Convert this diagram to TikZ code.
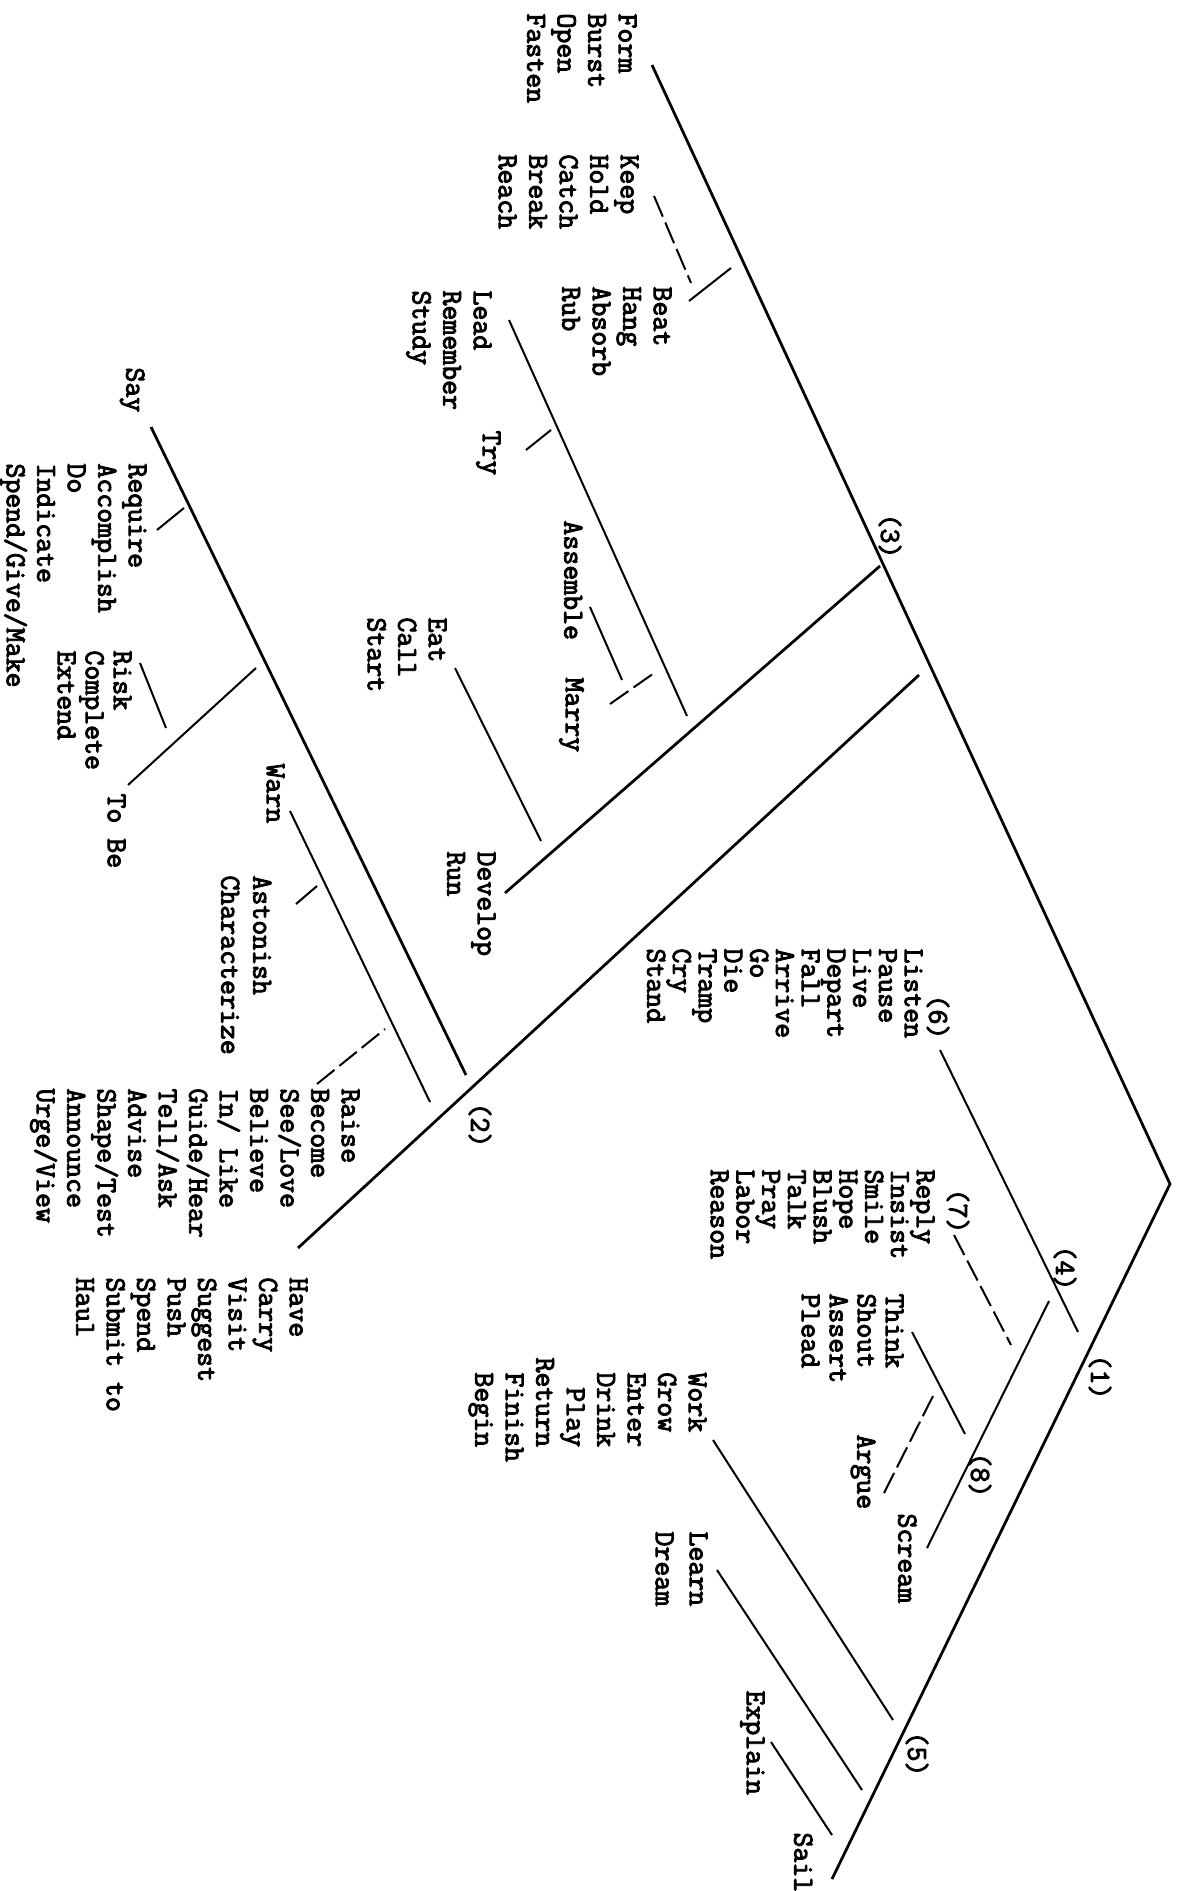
\documentclass[tikz,border=0pt]{standalone}
\usepackage{fontspec}
\newfontfamily\typer{Latin Modern Mono}[FakeBold=3.2]
\begin{document}
\begin{tikzpicture}[
  x=0.4pt, y=-0.4pt,
  %% Leaf words: typewritten, turned a quarter turn clockwise
  leaf/.style={rotate=-90, anchor=north west, align=left, inner sep=0pt,
               font=\typer\fontsize{11.6}{#1}\selectfont},
  leaf/.default=12.2,
  %% Cluster numbers
  tag/.style={rotate=-90, inner sep=0pt,
              font=\typer\fontsize{11.6}{12}\selectfont},
  %% Branches: trunk lines heavier, twigs lighter, broken ones dashed
  trunk/.style={line width=1.1pt},
  twig/.style={line width=0.8pt},
  broken/.style={line width=0.8pt, dash pattern=on 9pt off 2.5pt}
]
\useasboundingbox (0,0) rectangle (1178,1891);

%% ---- LEAVES (upper left) ----
\node[leaf] (form)     at (637,  13) {Form\\Burst\\Open\\Fasten};
\node[leaf] (keep)     at (639, 154) {Keep\\Hold\\Catch\\Break\\Reach};
\node[leaf] (beat)     at (672, 286) {Beat\\Hang\\Absorb\\Rub};
\node[leaf] (lead)     at (492, 290) {Lead\\Remember\\Study};
\node[leaf] (try)      at (501, 430) {Try};
\node[leaf] (assemble) at (583, 520) {Assemble};
\node[leaf] (marry)    at (584, 677) {Marry};
\node[leaf] (eat)      at (447, 617) {Eat\\Call\\Start};
\node[leaf] (develop)  at (496, 851) {Develop\\Run};

%% ---- LEAVES (left) ----
\node[leaf] (say)      at (145, 367) {Say};
\node[leaf] (require)  at (147, 463) {Require\\Accomplish\\Do\\Indicate\\Spend/Give/Make};
\node[leaf=11.2] (risk) at (132, 650) {Risk\\Complete\\Extend};
\node[leaf] (tobe)     at (126, 793) {To Be};
\node[leaf] (warn)     at (285, 763) {Warn};
\node[leaf=12.8] (astonish) at (272, 875) {Astonish\\Characterize};
\node[leaf] (raise)    at (360,1088) {Raise\\Become\\See/Love\\Believe\\In/ Like\\Guide/Hear\\Tell/Ask\\Advise\\Shape/Test\\Announce\\Urge/View};
\node[leaf] (have)     at (308,1277) {Have\\Carry\\Visit\\Suggest\\Push\\Spend\\Submit to\\Haul};

%% ---- LEAVES (right) ----
\node[leaf=10.3] (listen) at (923, 948) {Listen\\Pause\\Live\\Depart\\Fall\\Arrive\\Go\\Die\\Tramp\\Cry\\Stand};
\node[leaf=10.3] (reply)  at (935,1169) {Reply\\Insist\\Smile\\Hope\\Blush\\Talk\\Pray\\Labor\\Reason};
\node[leaf=11.2] (think)  at (904,1293) {Think\\Shout\\Assert\\Plead};
\node[leaf] (argue)    at (876,1434) {Argue};
\node[leaf] (scream)   at (917,1513) {Scream};
\node[leaf] (work)     at (707,1357) {\phantom{x}Work\\\phantom{x}Grow\\\phantom{x}Enter\\\phantom{x}Drink\\\phantom{xx}Play\\Return\\\phantom{x}Finish\\\phantom{x}Begin};
\node[leaf=13.6] (learn) at (708,1531) {Learn\\Dream};
\node[leaf] (explain)  at (765,1690) {Explain};
\node[leaf] (sail)     at (813,1832) {Sail};

%% ---- CLUSTER NUMBERS ----
\node[tag] (t1) at (1100,1377) {(1)};
\node[tag] (t2) at ( 480,1125) {(2)};
\node[tag] (t3) at ( 890, 536) {(3)};
\node[tag] (t4) at (1065,1268) {(4)};
\node[tag] (t5) at ( 917,1754) {(5)};
\node[tag] (t6) at ( 938,1017) {(6)};
\node[tag] (t7) at ( 958,1211) {(7)};
\node[tag] (t8) at ( 980,1475) {(8)};

%% ---- JUNCTIONS AND BRANCH ENDS ----
\coordinate (apex)  at (1170,1184);
\coordinate (form-s) at (652,  65);
\coordinate (sail-s) at (832,1879);
\coordinate (j1) at (1078,1332);
\coordinate (j2) at ( 466,1075);
\coordinate (j3) at ( 880, 566);
\coordinate (j4) at (1049,1301);
\coordinate (j5) at ( 893,1720);
\coordinate (j8) at ( 965,1434);
\coordinate (have-j)  at (919, 675);
\coordinate (have-s)  at (298,1248);
\coordinate (keep-s)  at (654, 196);  \coordinate (keep-e)  at (691, 283);
\coordinate (beat-s)  at (689, 301);  \coordinate (beat-e)  at (731, 268);
\coordinate (develop-s) at (505, 893);
\coordinate (lead-s)  at (509, 320);  \coordinate (lead-e)  at (687, 716);
\coordinate (try-j)   at (551, 430);  \coordinate (try-s)   at (526, 450);
\coordinate (assemble-s) at (590, 607); \coordinate (assemble-e) at (622, 680);
\coordinate (marry-s) at (610, 704);  \coordinate (marry-e) at (657, 671);
\coordinate (eat-s)   at (455, 668);  \coordinate (eat-e)   at (541, 841);
\coordinate (say-s)   at (151, 427);
\coordinate (require-s) at (157, 530); \coordinate (require-e) at (184, 508);
\coordinate (risk-s)  at (140, 663);  \coordinate (risk-e)  at (166, 728);
\coordinate (tobe-j)  at (256, 668);  \coordinate (tobe-s)  at (128, 785);
\coordinate (warn-s)  at (290, 811);  \coordinate (warn-e)  at (430,1102);
\coordinate (astonish-s) at (296, 904); \coordinate (astonish-e) at (317, 886);
\coordinate (raise-s) at (317,1084);  \coordinate (raise-e) at (385,1029);
\coordinate (listen-s) at (940,1050);
\coordinate (reply-s) at (954,1235);  \coordinate (reply-e) at (1011,1345);
\coordinate (scream-s) at (927,1548);
\coordinate (think-s) at (912,1332);
\coordinate (argue-j) at (933,1396);  \coordinate (argue-s) at (883,1495);
\coordinate (work-s)  at (713,1440);
\coordinate (learn-s) at (717,1570);  \coordinate (learn-e) at (862,1790);
\coordinate (explain-s) at (771,1742); \coordinate (explain-e) at (832,1835);

%% ---- MAIN TRUNKS ----
\draw[trunk] (form-s) -- (apex) -- (sail-s);
\draw[trunk] (have-j) -- (have-s);
\draw[trunk] (say-s) -- (j2);
\draw[trunk] (j3) -- (develop-s);

%% ---- UPPER BRANCHES ----
\draw[broken] (keep-s) -- (keep-e);
\draw[twig]   (beat-s) -- (beat-e);
\draw[twig]   (lead-s) -- (lead-e);
\draw[twig]   (try-j) -- (try-s);
\draw[twig]   (assemble-s) -- (assemble-e);
\draw[broken] (marry-s) -- (marry-e);
\draw[twig]   (eat-s) -- (eat-e);

%% ---- LEFT BRANCHES ----
\draw[twig]   (require-s) -- (require-e);
\draw[twig]   (risk-s) -- (risk-e);
\draw[twig]   (tobe-j) -- (tobe-s);
\draw[twig]   (warn-s) -- (warn-e);
\draw[twig]   (astonish-s) -- (astonish-e);
\draw[broken] (raise-s) -- (raise-e);

%% ---- RIGHT BRANCHES ----
\draw[twig]   (listen-s) -- (j1);
\draw[broken] (reply-s) -- (reply-e);
\draw[twig]   (j4) -- (scream-s);
\draw[twig]   (think-s) -- (j8);
\draw[broken] (argue-j) -- (argue-s);
\draw[twig]   (work-s) -- (j5);
\draw[twig]   (learn-s) -- (learn-e);
\draw[twig]   (explain-s) -- (explain-e);

\end{tikzpicture}
\end{document}
